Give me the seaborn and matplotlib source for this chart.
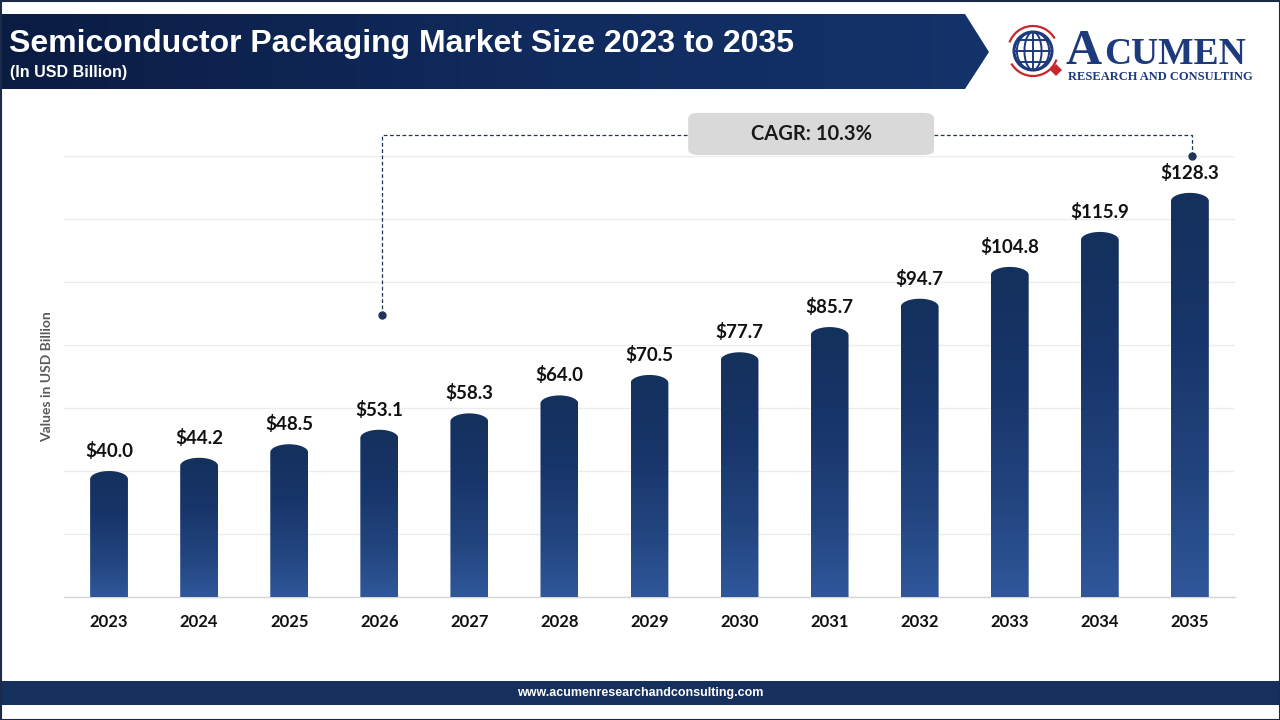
import numpy as np
import pandas as pd
import matplotlib
matplotlib.use("Agg")
import matplotlib.pyplot as plt
import seaborn as sns
from matplotlib.colors import LinearSegmentedColormap
from matplotlib.path import Path
from matplotlib.patches import PathPatch, FancyBboxPatch, Polygon, Circle, Arc, Rectangle

# --- data ---
years = ['2023', '2024', '2025', '2026', '2027', '2028', '2029',
         '2030', '2031', '2032', '2033', '2034', '2035']
market_size = [40.0, 44.2, 48.5, 53.1, 58.3, 64.0, 70.5,
               77.7, 85.7, 94.7, 104.8, 115.9, 128.3]
cagr_text = 'CAGR: 10.3%'

NAVY = '#14305c'
BODY_FONT = ['Lato', 'DejaVu Sans']
HEAD_FONT = ['Liberation Sans', 'DejaVu Sans']

df = pd.DataFrame({'Year': years, 'Value': market_size})

sns.set_theme(style='white')
plt.rcParams['font.family'] = BODY_FONT

fig = plt.figure(figsize=(12.8, 7.2), dpi=100)
fig.patch.set_facecolor('white')

# background layer in pixel coords (header, footer, logo)
bg = fig.add_axes([0, 0, 1, 1], zorder=0)
bg.set_xlim(0, 1280)
bg.set_ylim(720, 0)
bg.axis('off')

# header arrow band with horizontal gradient
hdr = Polygon([(0, 14), (965, 14), (989, 52), (965, 89), (0, 89)], closed=True,
              facecolor='none', edgecolor='none')
bg.add_patch(hdr)
hcmap = LinearSegmentedColormap.from_list('hdr', ['#0b1c42', '#102a5c', '#13336a'])
grad = bg.imshow(np.linspace(0, 1, 256).reshape(1, -1), cmap=hcmap, aspect='auto',
                 extent=(0, 990, 89, 14), zorder=1)
grad.set_clip_path(hdr)
bg.set_xlim(0, 1280)
bg.set_ylim(720, 0)

bg.text(9, 44, 'Semiconductor Packaging Market Size 2023 to 2035', color='white',
        fontsize=23, fontweight='bold', va='center', ha='left', family=HEAD_FONT, zorder=2)
bg.text(10, 72, '(In USD Billion)', color='white', fontsize=11.5, fontweight='bold',
        va='center', ha='left', family=HEAD_FONT, zorder=2)

# footer
bg.add_patch(Rectangle((0, 681), 1280, 24, facecolor='#15305c', edgecolor='none', zorder=1))
bg.text(640, 693, 'www.acumenresearchandconsulting.com', color='white', fontsize=9,
        fontweight='bold', ha='center', va='center', family=HEAD_FONT, zorder=2)

# outer border
bg.add_patch(Rectangle((0.5, 0.5), 1279, 719, facecolor='none', edgecolor='#1c2a48',
                       linewidth=1.5, zorder=3))

# logo: globe + red arrows + wordmark
logo_navy = '#1d3a7c'
logo_red = '#c9252c'
gx, gy, gr = 1033, 51, 19
bg.add_patch(Circle((gx, gy), gr, facecolor='white', edgecolor=logo_navy, linewidth=2.2, zorder=2))
for w in [0.45, 0.85]:
    bg.add_patch(Arc((gx, gy), 2 * gr * w, 2 * gr, edgecolor=logo_navy, linewidth=1.4, zorder=2))
bg.plot([gx, gx], [gy - gr, gy + gr], color=logo_navy, lw=1.4, zorder=2)
for dy in [-11, 0, 11]:
    half = np.sqrt(max(gr ** 2 - dy ** 2, 0))
    bg.plot([gx - half, gx + half], [gy + dy, gy + dy], color=logo_navy, lw=1.4, zorder=2)
bg.add_patch(Arc((gx, gy), 2 * gr + 12, 2 * gr + 12, theta1=200, theta2=330,
                 edgecolor=logo_red, linewidth=1.6, zorder=2))
bg.add_patch(Arc((gx, gy), 2 * gr + 12, 2 * gr + 12, theta1=20, theta2=150,
                 edgecolor=logo_red, linewidth=1.6, zorder=2))
bg.add_patch(Polygon([(1050, 70), (1056, 64), (1062, 70), (1056, 76)], closed=True,
                     facecolor=logo_red, edgecolor='none', zorder=2))
serif = ['Liberation Serif', 'DejaVu Serif']
bg.text(1066, 64, 'A', color=logo_navy, fontsize=36, fontweight='bold', family=serif,
        ha='left', va='baseline', zorder=2)
bg.text(1104, 64, 'CUMEN', color=logo_navy, fontsize=27, fontweight='bold', family=serif,
        ha='left', va='baseline', zorder=2)
bg.text(1068, 80, 'RESEARCH AND CONSULTING', color=logo_navy, fontsize=9, fontweight='bold',
        family=serif, ha='left', va='baseline', zorder=2)

# --- main chart ---
ax = fig.add_axes([0.05, 0.1708, 0.9148, 0.6125], zorder=1)
ax.patch.set_alpha(0)

sns.barplot(data=df, x='Year', y='Value', ax=ax, color=NAVY, width=0.42)

ymax = 140
bar_cmap = LinearSegmentedColormap.from_list(
    'bar', [(0.0, '#2f579a'), (0.3, '#22447e'), (0.65, '#18356a'), (1.0, '#14305c')])
gradient = np.linspace(0, 1, 256).reshape(-1, 1)
cap = 2.6  # dome height in data units

for patch, val in zip(ax.patches, market_size):
    x0 = patch.get_x()
    w = patch.get_width()
    h = patch.get_height()
    patch.set_visible(False)
    t = np.linspace(np.pi, 0, 40)
    arc_x = x0 + w / 2 + (w / 2) * np.cos(t)
    arc_y = h - cap + cap * np.sin(t)
    verts = [(x0, 0)] + list(zip(arc_x, arc_y)) + [(x0 + w, 0), (x0, 0)]
    codes = [Path.MOVETO] + [Path.LINETO] * (len(verts) - 2) + [Path.CLOSEPOLY]
    shape = PathPatch(Path(verts, codes), facecolor='none', edgecolor='none')
    ax.add_patch(shape)
    im = ax.imshow(gradient, cmap=bar_cmap, origin='lower', aspect='auto',
                   extent=(x0, x0 + w, 0, h), zorder=3)
    im.set_clip_path(shape)
    ax.annotate(f'${val:.1f}', (x0 + w / 2, h), xytext=(0, 8), textcoords='offset points',
                ha='center', va='bottom', fontsize=13.5, fontweight='bold', color='#111111')

ax.set_ylim(0, ymax)
ax.set_xlim(-0.5, len(years) - 0.5)

ax.set_yticks(np.arange(0, ymax + 1, 20))
ax.yaxis.grid(True, color='#ececec', linewidth=1)
ax.set_axisbelow(True)
ax.tick_params(axis='y', left=False, labelleft=False)
ax.tick_params(axis='x', bottom=False, pad=6)
for lab in ax.get_xticklabels():
    lab.set_fontweight('bold')
    lab.set_fontsize(12)
    lab.set_color('#111111')
for s in ['top', 'right', 'left']:
    ax.spines[s].set_visible(False)
ax.spines['bottom'].set_color('#d6d6d6')
ax.spines['bottom'].set_linewidth(1)
ax.set_xlabel('')
ax.set_ylabel('Values in USD Billion', fontsize=10, fontweight='bold', color='#5a5a5a',
              labelpad=8)

# CAGR connector
line_y = 146.7
left_x, left_y = 3.03, 89.5
right_x, right_y = 12.02, 140
box_l, box_r = 6.43, 9.16
dash = dict(color='#1f3458', lw=0.9, ls=(0, (3, 2)), clip_on=False, zorder=4)
ax.plot([left_x, left_x, box_l], [left_y, line_y, line_y], **dash)
ax.plot([box_r, right_x, right_x], [line_y, line_y, right_y], **dash)
ax.plot([left_x, right_x], [left_y, right_y], 'o', color='#1f3458', ms=5, clip_on=False, zorder=5)
box = FancyBboxPatch((box_l, 140.3), box_r - box_l, 13.4,
                     boxstyle='round,pad=0,rounding_size=0.12', mutation_aspect=15,
                     facecolor='#d9d9d9', edgecolor='none', clip_on=False, zorder=5)
ax.add_patch(box)
ax.text((box_l + box_r) / 2, 147.0, cagr_text, ha='center', va='center', fontsize=14.5,
        fontweight='bold', color='#1a1a1a', zorder=6)

fig.savefig('out.png', dpi=100)
